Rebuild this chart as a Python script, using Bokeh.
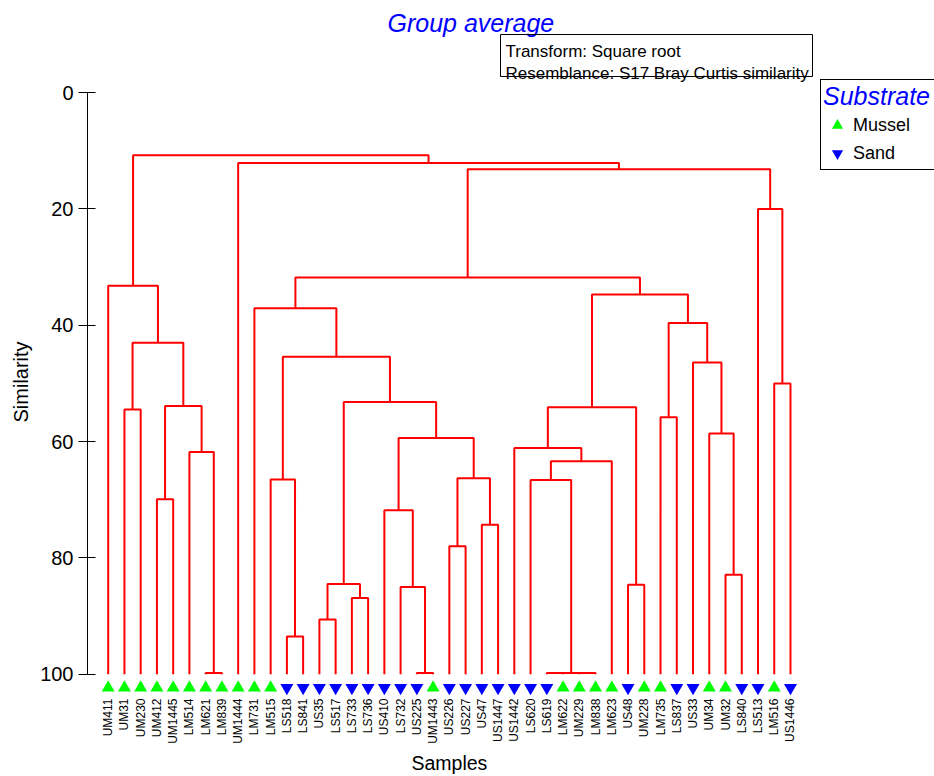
import numpy as np
from bokeh.plotting import figure
from bokeh.models import (Range1d, FixedTicker, Label, BoxAnnotation, Legend, LegendItem, Title)
from bokeh.embed import file_html
from bokeh.resources import INLINE

FONT = "Liberation Sans"

# ---------------- data ----------------
samples = ["UM411", "UM31", "UM230", "UM412", "UM1445", "LM514", "LM621", "LM839",
           "UM1444", "LM731", "LM515", "LS518", "LS841", "US35", "LS517", "LS733",
           "LS736", "US410", "LS732", "US225", "UM1443", "US226", "US227", "US47",
           "US1447", "US1442", "LS620", "LS619", "LM622", "UM229", "LM838", "LM623",
           "US48", "UM228", "LM735", "LS837", "US33", "UM34", "UM32", "LS840",
           "LS513", "LM516", "US1446"]
substrate = ["Mussel", "Mussel", "Mussel", "Mussel", "Mussel", "Mussel", "Mussel", "Mussel",
             "Mussel", "Mussel", "Mussel", "Sand", "Sand", "Sand", "Sand", "Sand",
             "Sand", "Sand", "Sand", "Sand", "Mussel", "Sand", "Sand", "Sand",
             "Sand", "Sand", "Sand", "Sand", "Mussel", "Mussel", "Mussel", "Mussel",
             "Sand", "Mussel", "Mussel", "Sand", "Sand", "Mussel", "Mussel", "Sand",
             "Sand", "Mussel", "Sand"]

# merges: node id = len(samples) + row index
merge_a = [6, 19, 27, 29, 45, 11, 13, 15, 18, 32, 49, 38, 21, 23, 17, 3, 26, 10, 55, 59, 5,
           25, 57, 37, 34, 1, 64, 58, 53, 41, 36, 60, 68, 67, 9, 69, 0, 77, 40, 80, 8, 79]
merge_b = [7, 20, 28, 30, 46, 12, 14, 16, 44, 33, 50, 39, 22, 24, 51, 4, 47, 48, 56, 31, 43,
           62, 61, 54, 35, 2, 52, 63, 65, 42, 66, 71, 70, 73, 74, 76, 75, 78, 72, 81, 82, 83]
merge_sim = [99.8, 99.8, 99.8, 99.8, 99.8, 93.5, 90.6, 86.9, 85.0, 84.6, 84.5, 82.9, 78.0,
             74.3, 71.8, 69.9, 66.6, 66.5, 66.3, 63.4, 61.8, 61.1, 59.4, 58.6, 55.8, 54.5,
             54.1, 53.9, 53.2, 50.0, 46.4, 45.4, 43.0, 39.6, 37.1, 34.7, 33.2, 31.8, 20.0,
             13.2, 12.1, 10.8]

y_ticks = [0, 20, 40, 60, 80, 100]
groups = ["Mussel", "Sand"]

# ---------------- style constants ----------------
MARKER_Y = 102.3
RED = "#FF0000"

n = len(samples)
node_x = {i: float(i) for i in range(n)}
node_h = {i: 100.0 for i in range(n)}
xs, ys = [], []
for k, (a, b, s) in enumerate(zip(merge_a, merge_b, merge_sim)):
    xa_, xb_ = node_x[a], node_x[b]
    xs.append([xa_, xa_, xb_, xb_])
    ys.append([node_h[a], s, s, node_h[b]])
    node_x[n + k] = (xa_ + xb_) / 2.0
    node_h[n + k] = s

p = figure(width=934, height=776,
           x_range=Range1d(-1.2742, 50.865), y_range=Range1d(103.65, -15.82),
           output_backend="svg", toolbar_location=None,
           min_border_left=87, min_border_right=0, min_border_top=0, min_border_bottom=79)
p.outline_line_color = None
p.xgrid.visible = False
p.ygrid.visible = False
p.background_fill_color = "white"
p.border_fill_color = "white"

p.multi_line(xs, ys, line_color=RED, line_width=2)

idx_m = [i for i, g in enumerate(substrate) if g == groups[0]]
idx_s = [i for i, g in enumerate(substrate) if g == groups[1]]
r_m = p.scatter(idx_m, [MARKER_Y] * len(idx_m), marker="triangle", size=13,
                fill_color="#00FF00", line_color=None)
r_s = p.scatter(idx_s, [MARKER_Y] * len(idx_s), marker="inverted_triangle", size=13,
                fill_color="#0000FF", line_color=None)

# x axis
xa = p.xaxis[0]
xa.ticker = FixedTicker(ticks=list(range(n)))
xa.major_label_overrides = {i: s for i, s in enumerate(samples)}
xa.major_label_orientation = np.pi / 2
xa.axis_line_color = None
xa.major_tick_line_color = None
xa.minor_tick_line_color = None
xa.major_tick_in = 0
xa.major_tick_out = 0
xa.major_label_standoff = 3
xa.major_label_text_font = FONT
xa.major_label_text_font_size = "12px"
xa.major_label_text_color = "black"

# y axis
ya = p.yaxis[0]
ya.ticker = FixedTicker(ticks=y_ticks)
ya.bounds = (0, 100)
ya.axis_line_color = "black"
ya.major_tick_line_color = "black"
ya.minor_tick_line_color = None
ya.major_tick_in = 8
ya.major_tick_out = 9
ya.major_label_standoff = 5
ya.major_label_text_font = FONT
ya.major_label_text_font_size = "20px"
ya.major_label_text_color = "black"

# axis titles, placed as side-panel titles centred on the axis extents
p.add_layout(Title(text="Samples", align="left", offset=324, standoff=6,
                   text_font=FONT, text_font_size="19.5px", text_font_style="normal",
                   text_color="black"), "below")
p.add_layout(Title(text="Similarity", align="left", offset=273, standoff=12,
                   text_font=FONT, text_font_size="20px", text_font_style="normal",
                   text_color="black"), "left")

# title and info box
p.add_layout(Label(x=300, y=673, x_units="screen", y_units="screen", text="Group average",
                   text_font=FONT, text_font_size="25px", text_font_style="italic",
                   text_color="#0000FF", text_baseline="alphabetic"))
p.add_layout(BoxAnnotation(left=413, right=725, top=661, bottom=619,
                           left_units="screen", right_units="screen",
                           top_units="screen", bottom_units="screen",
                           fill_alpha=0, line_color="black", line_alpha=1, line_width=1))
p.add_layout(Label(x=418, y=644, x_units="screen", y_units="screen",
                   text="Transform: Square root", text_font=FONT, text_font_size="17px",
                   text_color="black", text_baseline="alphabetic"))
p.add_layout(Label(x=418, y=622, x_units="screen", y_units="screen",
                   text="Resemblance: S17 Bray Curtis similarity", text_font=FONT,
                   text_font_size="17px", text_color="black", text_baseline="alphabetic"))

legend = Legend(items=[LegendItem(label=groups[0], renderers=[r_m]),
                       LegendItem(label=groups[1], renderers=[r_s])],
                location=(733, 525), title="Substrate",
                title_text_font=FONT, title_text_font_style="italic",
                title_text_color="#0000FF", title_text_font_size="25px", title_standoff=0,
                label_text_font=FONT, label_text_font_size="18px", label_text_color="black",
                label_standoff=2, label_width=120, glyph_width=28, glyph_height=28,
                spacing=0, padding=2, margin=0, border_line_color="black",
                border_line_width=1, border_line_alpha=1,
                background_fill_color="white", background_fill_alpha=1)
p.add_layout(legend)

open("out.html", "w").write(file_html(p, INLINE))
